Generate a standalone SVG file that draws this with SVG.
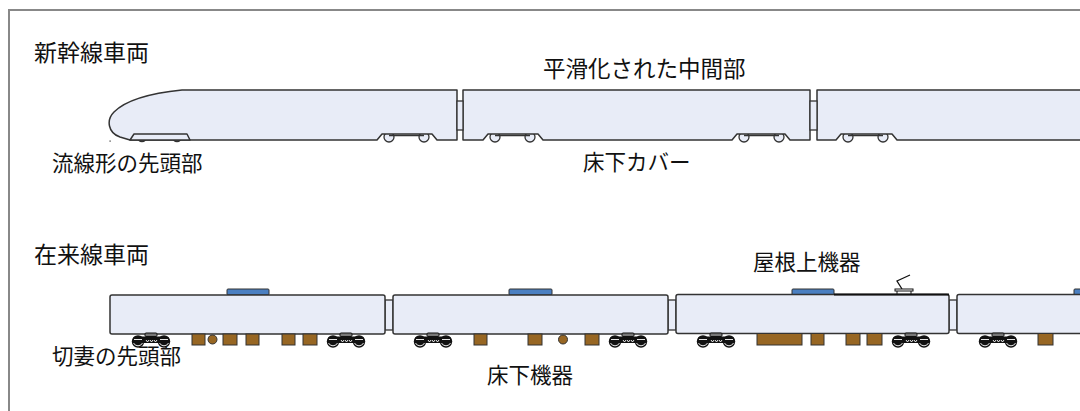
<svg xmlns="http://www.w3.org/2000/svg" xmlns:xlink="http://www.w3.org/1999/xlink" width="1080" height="411" viewBox="0 0 1080 411">
  <style>
    .label { font-family: "Noto Sans CJK JP", "Noto Sans", sans-serif; font-size: 21.5px; fill: #111; }
    .head { font-family: "Noto Sans CJK JP", "Noto Sans", sans-serif; font-size: 23px; fill: #111; }
    .body { fill: #e8ecf7; stroke: #333; stroke-width: 1.5; stroke-linejoin: round; }
    .gang { fill: #e8ecf7; stroke: #333; stroke-width: 1.3; }
    .wheel { fill: #e8ecf7; stroke: #333; stroke-width: 1.3; }
    .roof { fill: #4a7fc1; stroke: #333; stroke-width: 1; }
    .equip { fill: #976623; stroke: #333; stroke-width: 1; }
    .frame { fill: none; stroke: #888; stroke-width: 2; }
  </style>
  <defs>
    <!-- bogie of a conventional car, 42 px wide -->
    <g id="bogie">
      <rect x="15" y="0" width="12" height="3.5" rx="1" fill="#777" stroke="#111" stroke-width="1"/>
      <rect x="3" y="3.5" width="36" height="6.5" rx="2.5" fill="#111"/>
      <circle cx="8" cy="8.5" r="6.2" fill="#111"/>
      <circle cx="34" cy="8.5" r="6.2" fill="#111"/>
      <path d="M3.5,10 A5,5 0 0 0 12.5,10 M29.5,10 A5,5 0 0 0 38.5,10" fill="none" stroke="#fff" stroke-width="0.9"/>
      <path d="M4,6.5 H12 M30,6.5 H38" stroke="#fff" stroke-width="0.9"/>
      <path d="M16,7 l1.5,2 l1.5,-2 M20,7 l1.5,2 l1.5,-2 M24,7 l1.5,2 l1.5,-2" fill="none" stroke="#fff" stroke-width="0.9"/>
    </g>
  </defs>

  <path class="frame" d="M9,411 V10 H1080"/>

  <!-- Shinkansen -->
  <g id="shinkansen-label">
    <text class="head" x="34" y="61">新幹線車両</text>
  </g>
  <g id="shinkansen-car1">
    <circle class="wheel" cx="142" cy="137" r="4.5"/>
    <circle class="wheel" cx="177" cy="137" r="4.5"/>
    <circle class="wheel" cx="389" cy="137" r="5"/>
    <circle class="wheel" cx="424" cy="137" r="5"/>
    <line x1="389" y1="135.5" x2="424" y2="135.5" stroke="#333" stroke-width="1.3"/>
    <path class="body" d="M182,90 H457 V140 H437 L432,134 H382 L377,140 H130 L120,137 C108,133 106,120 114,112 C126,100 152,93 182,90 Z"/>
    <path class="body" d="M130,140 L134,134 H187 L190,140 Z"/>
    <rect x="109.5" y="140.5" width="1.2" height="1.2" fill="#333"/>
  </g>
  <g id="shinkansen-car2">
    <circle class="wheel" cx="495" cy="137" r="5"/>
    <circle class="wheel" cx="530" cy="137" r="5"/>
    <circle class="wheel" cx="744" cy="137" r="5"/>
    <circle class="wheel" cx="779" cy="137" r="5"/>
    <line x1="495" y1="135.5" x2="530" y2="135.5" stroke="#333" stroke-width="1.3"/>
    <line x1="744" y1="135.5" x2="779" y2="135.5" stroke="#333" stroke-width="1.3"/>
    <path class="body" d="M463,90 H810 V140 H790 L785,134 H737 L732,140 H543 L538,134 H488 L483,140 H463 Z"/>
  </g>
  <g id="shinkansen-car3">
    <circle class="wheel" cx="848" cy="137" r="5"/>
    <circle class="wheel" cx="883" cy="137" r="5"/>
    <line x1="848" y1="135.5" x2="883" y2="135.5" stroke="#333" stroke-width="1.3"/>
    <path class="body" d="M817,90 H1090 V140 H897 L892,134 H841 L836,140 H817 Z"/>
  </g>
  <g id="shinkansen-gangways">
    <rect class="gang" x="457" y="101" width="6" height="29"/>
    <rect class="gang" x="810" y="101" width="7" height="29"/>
  </g>
  <g id="shinkansen-texts">
    <text class="label" x="543" y="77" style="font-size:22.5px">平滑化された中間部</text>
    <text class="label" x="52" y="171">流線形の先頭部</text>
    <text class="label" x="583" y="170">床下カバー</text>
  </g>

  <!-- Conventional line -->
  <g id="conventional-label">
    <text class="head" x="34" y="263">在来線車両</text>
  </g>
  <g id="conventional-gangways">
    <rect class="gang" x="385" y="300" width="8" height="30"/>
    <rect class="gang" x="668" y="300" width="8" height="30"/>
    <rect class="gang" x="949" y="300" width="8" height="30"/>
  </g>
  <g id="conventional-car1">
    <rect class="roof" x="227" y="289" width="42" height="6" rx="1"/>
    <rect class="body" x="110" y="295" width="275" height="39" rx="2"/>
    <use xlink:href="#bogie" x="130" y="333"/>
    <use xlink:href="#bogie" x="325" y="333"/>
    <rect class="equip" x="192" y="334" width="13" height="11"/>
    <circle class="equip" cx="212.5" cy="339.5" r="4.5"/>
    <rect class="equip" x="223" y="334" width="14" height="11"/>
    <rect class="equip" x="246" y="334" width="13" height="11"/>
    <rect class="equip" x="282" y="334" width="13" height="11"/>
    <rect class="equip" x="303" y="334" width="14" height="11"/>
  </g>
  <g id="conventional-car2">
    <rect class="roof" x="509" y="289" width="43" height="6" rx="1"/>
    <rect class="body" x="393" y="295" width="275" height="39" rx="2"/>
    <use xlink:href="#bogie" x="412" y="333"/>
    <use xlink:href="#bogie" x="607" y="333"/>
    <rect class="equip" x="474" y="334" width="13" height="11"/>
    <rect class="equip" x="528" y="334" width="14" height="11"/>
    <circle class="equip" cx="563" cy="339.5" r="4.5"/>
    <rect class="equip" x="585" y="334" width="14" height="11"/>
  </g>
  <g id="conventional-car3">
    <rect class="roof" x="792" y="289" width="42" height="6" rx="1"/>
    <!-- pantograph -->
    <path d="M902,289 L897,281 L910,275" fill="none" stroke="#111" stroke-width="1.3"/>
    <rect x="895" y="289" width="18" height="2" fill="#fff" stroke="#111" stroke-width="1"/>
    <path d="M897,291 V294 M911,291 V294" stroke="#111" stroke-width="1"/>
    <rect class="body" x="676" y="294.5" width="273" height="39" rx="2"/>
    <line x1="834" y1="294.5" x2="949" y2="294.5" stroke="#111" stroke-width="1.8"/>
    <use xlink:href="#bogie" x="695" y="333"/>
    <use xlink:href="#bogie" x="890" y="333"/>
    <rect class="equip" x="757" y="333.5" width="45" height="11.5"/>
    <rect class="equip" x="811" y="333.5" width="13" height="11.5"/>
    <rect class="equip" x="846" y="333.5" width="14" height="11.5"/>
    <rect class="equip" x="867" y="333.5" width="15" height="11.5"/>
  </g>
  <g id="conventional-car4">
    <rect class="roof" x="1074" y="289" width="42" height="6" rx="1"/>
    <rect class="body" x="957" y="294.5" width="150" height="39" rx="2"/>
    <use xlink:href="#bogie" x="977" y="333"/>
    <rect class="equip" x="1038" y="333.5" width="15" height="11.5"/>
  </g>
  <g id="conventional-texts">
    <text class="label" x="753" y="270">屋根上機器</text>
    <text class="label" x="52" y="364">切妻の先頭部</text>
    <text class="label" x="487" y="383">床下機器</text>
  </g>
</svg>
